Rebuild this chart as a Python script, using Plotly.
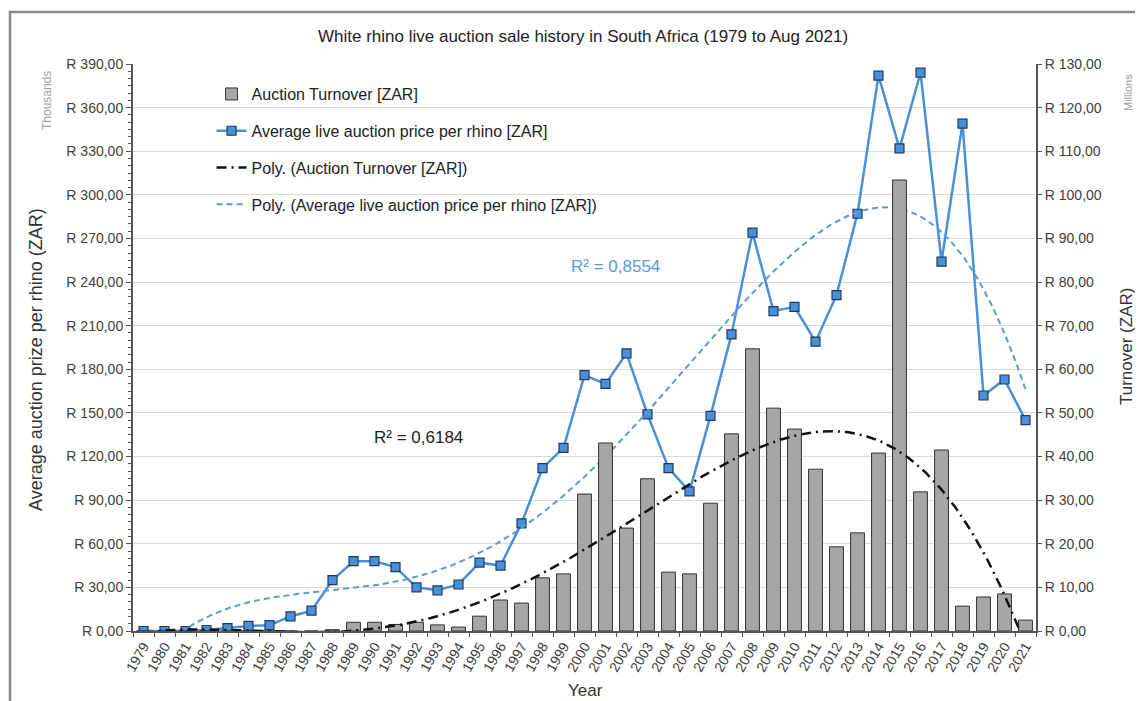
import numpy as np
import plotly.graph_objects as go

years = list(range(1979, 2022))

# average live auction price per rhino, R thousands
avg_price = [0, 0, 0, 0.7, 2, 3.5, 4, 10, 14, 35, 48, 48, 44, 30, 28, 32, 47, 45, 74,
             112, 126, 176, 170, 191, 149, 112, 96, 148, 204, 274, 220, 223, 199, 231,
             287, 382, 332, 384, 254, 349, 162, 173, 145]

# auction turnover, R millions
turnover = [0, 0, 0, 0, 0, 0, 0, 0, 0, 0.3, 2, 2, 1.5, 2, 1.4, 0.9, 3.4, 7.1, 6.4,
            12.2, 13.1, 31.4, 43.1, 23.6, 34.9, 13.5, 13.1, 29.3, 45.2, 64.7, 51.1,
            46.3, 37.1, 19.3, 22.5, 40.8, 103.4, 31.9, 41.5, 5.7, 7.8, 8.5, 2.5]

left_ticks = list(range(0, 391, 30))
right_ticks = list(range(0, 131, 10))
left_text = ["R %d,00" % v for v in left_ticks]
right_text = ["R %d,00" % v for v in right_ticks]

# Excel-style polynomial trendlines (order 4)
x = np.array(years, dtype=float) - 1979
xs = np.linspace(0, 42, 400)
price_fit = np.polyval(np.polyfit(x, avg_price, 4), xs)
turn_fit = np.polyval(np.polyfit(x, turnover, 4), xs)
xs = xs + 1979

fig = go.Figure()
fig.add_trace(go.Bar(
    x=years, y=turnover, yaxis="y2", name="Auction Turnover [ZAR]",
    marker=dict(color="#a6a6a6", line=dict(color="#333333", width=1)),
    width=0.66, legendgroup="a"))
fig.add_trace(go.Scatter(
    x=years, y=avg_price, mode="lines+markers",
    name="Average live auction price per rhino [ZAR]",
    line=dict(color="#4a90d9", width=2.5),
    marker=dict(symbol="square", size=9, color="#4a90d9",
                line=dict(color="#1f3b63", width=1.2)),
    legendgroup="b"))
fig.add_trace(go.Scatter(
    x=xs, y=turn_fit, yaxis="y2", mode="lines",
    name="Poly. (Auction Turnover [ZAR])",
    line=dict(color="#111111", width=2.5, dash="10px,5px,2px,5px"),
    legendgroup="c"))
fig.add_trace(go.Scatter(
    x=xs, y=price_fit, mode="lines",
    name="Poly. (Average live auction price per rhino [ZAR])",
    line=dict(color="#5b9bd5", width=2, dash="6px,4px"),
    legendgroup="d"))

font = "Liberation Sans, Arial, sans-serif"
fig.update_layout(
    width=1135, height=693,
    margin=dict(l=125, r=107, t=56, b=70),
    paper_bgcolor="white", plot_bgcolor="white",
    font=dict(family=font, size=14, color="#404040"),
    showlegend=True,
    legend=dict(x=0.087, y=0.977, xanchor="left", yanchor="top",
                bgcolor="rgba(0,0,0,0)", font=dict(size=16, color="#222222"),
                tracegroupgap=13),
    xaxis=dict(range=[1978.5, 2021.5], tickmode="array", tickvals=years,
               ticktext=[str(y) for y in years], tickangle=-60,
               tickfont=dict(size=14, color="#404040"), ticks="",
               showline=True, linecolor="#555555", linewidth=1.5,
               minor=dict(tickmode="linear", tick0=1978.5, dtick=1, ticks="outside",
                          ticklen=4, tickcolor="#555555"),
               showgrid=False, zeroline=False),
    yaxis=dict(range=[0, 390], tickmode="array", tickvals=left_ticks, ticktext=left_text,
               showgrid=True, gridcolor="#d9d9d9", gridwidth=1,
               showline=True, linecolor="#555555", linewidth=2,
               ticks="outside", ticklen=5, tickcolor="#555555",
               minor=dict(dtick=5, ticks="outside", ticklen=3, tickcolor="#555555",
                          showgrid=False),
               zeroline=False, tickfont=dict(size=14, color="#404040")),
    yaxis2=dict(range=[0, 130], overlaying="y", side="right", tickmode="array",
                tickvals=right_ticks, ticktext=right_text, showgrid=False,
                showline=True, linecolor="#555555", linewidth=2,
                ticks="outside", ticklen=4, tickcolor="#555555", zeroline=False,
                tickfont=dict(size=14, color="#404040")),
)


def px_x(p):
    return (p - 133) / 903


def px_y(p):
    return (631 - p) / 567


def note(text, px, py, size, color, angle=0):
    fig.add_annotation(text=text, xref="paper", yref="paper", x=px_x(px), y=px_y(py),
                       xanchor="center", yanchor="middle", textangle=angle,
                       showarrow=False, font=dict(size=size, color=color))


note("White rhino live auction sale history in South Africa (1979 to Aug 2021)",
     583, 36, 17, "#222222")
note("Average auction prize per rhino (ZAR)", 36, 360, 18, "#333333", -90)
note("Turnover (ZAR)", 1126, 347, 17, "#333333", -90)
note("Thousands", 47, 101, 12, "#a0a0a0", -90)
note("Millions", 1128, 93, 11, "#a0a0a0", -90)
note("Year", 585, 690, 17, "#333333")
note("R² = 0,6184", 418, 437, 17, "#222222")
note("R² = 0,8554", 615, 266, 17, "#5b9bd5")

fig.add_shape(type="rect", xref="paper", yref="paper",
              x0=px_x(10), x1=px_x(1170), y0=px_y(720), y1=px_y(12),
              line=dict(color="#888888", width=2.5), layer="below")

fig.write_html("out.html")
